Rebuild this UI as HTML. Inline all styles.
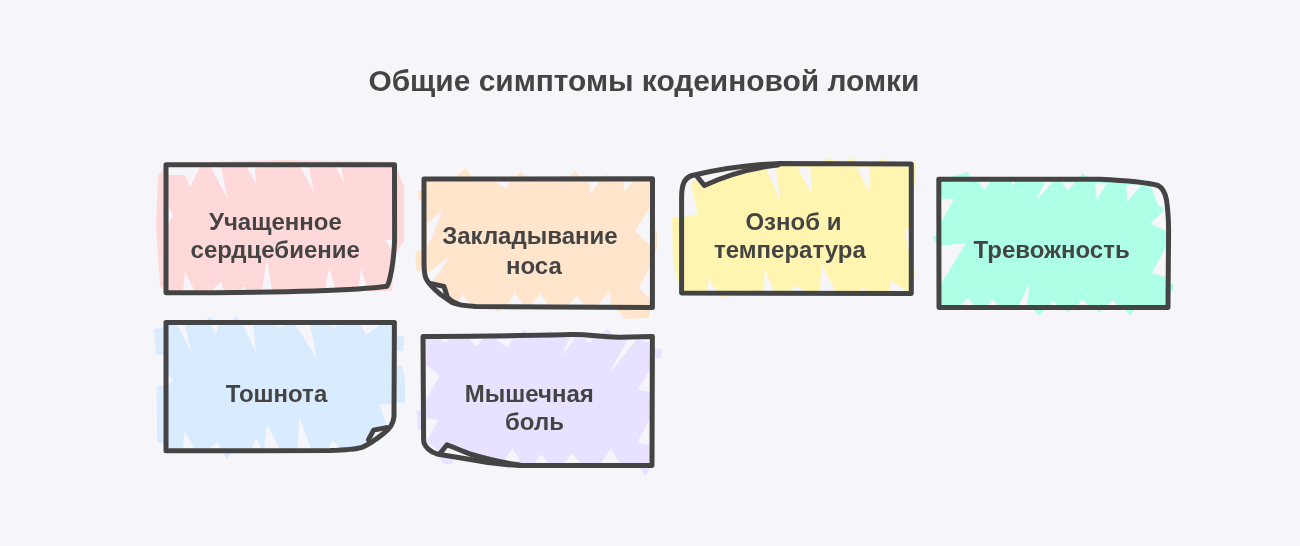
<!DOCTYPE html>
<html><head><meta charset="utf-8">
<style>
html,body{margin:0;padding:0;background:#F6F5FA;width:1300px;height:546px;overflow:hidden}
svg{display:block}
</style></head><body>
<svg width="1300" height="546" viewBox="0 0 1300 546">
<rect width="1300" height="546" fill="#F6F5FA"/>
<polygon fill="#FFD9D9" points="168,164 240,161 285,160 394,162 404,186 404,241 394,255 392,291 168,292 160,286 156,227 158,176"/>
<polygon fill="#F6F5FA" points="168,167 200,167 190,187 185,175 168,175"/>
<polygon fill="#F6F5FA" points="211,167 221,167 227.7,199"/>
<polygon fill="#F6F5FA" points="247,167 255,167 256,184"/>
<polygon fill="#F6F5FA" points="300,167 309,167 314,192"/>
<polygon fill="#F6F5FA" points="336,167 341,167 344,183"/>
<polygon fill="#F6F5FA" points="183,291 195,291 185,272"/>
<polygon fill="#F6F5FA" points="211,291 224,291 221,282"/>
<polygon fill="#F6F5FA" points="239,291 247,291 244,286"/>
<polygon fill="#F6F5FA" points="262,291 272,291 267,258"/>
<polygon fill="#F6F5FA" points="325,291 336,291 329,268"/>
<polygon fill="#F6F5FA" points="358,291 368,291 361,268"/>
<polygon fill="#F6F5FA" points="168,205 173,215 168,225"/>
<polygon fill="#F6F5FA" points="385,240 394,240 394,255"/>
<polygon fill="#FFE5CC" points="426,181 651,180 651,306 460,306 440,296 426,280"/>
<polygon fill="#FFE5CC" points="452,179 466,168.7 474,179"/>
<polygon fill="#FFE5CC" points="514,179 520.7,171.6 528,179"/>
<polygon fill="#FFE5CC" points="568,179 575,171 582,179"/>
<polygon fill="#FFE5CC" points="602,179 606,174 610,179"/>
<polygon fill="#FFE5CC" points="426,190 417.5,191 419,200 426,202"/>
<polygon fill="#FFE5CC" points="426,248 415.5,252 416,270 426,272"/>
<polygon fill="#FFE5CC" points="490,306 498,312 504,306"/>
<polygon fill="#FFE5CC" points="615,306 625,319 649,318 651,306"/>
<polygon fill="#FFE5CC" points="651,222 657,232 657,250 651,252"/>
<polygon fill="#F6F5FA" points="496,182 510,182 506,189"/>
<polygon fill="#F6F5FA" points="589,182 599,182 590,194"/>
<polygon fill="#F6F5FA" points="623,182 632,182 625,192"/>
<polygon fill="#F6F5FA" points="443,209 427,224 427,246 431,240"/>
<polygon fill="#F6F5FA" points="450,256 427,274 430,283 437,276"/>
<polygon fill="#F6F5FA" points="651,206 635,231 651,246"/>
<polygon fill="#F6F5FA" points="651,264 639,288 651,300"/>
<polygon fill="#F6F5FA" points="457.8,305 471,305 462,294.4"/>
<polygon fill="#F6F5FA" points="507,305 523.7,305 514.7,292.8"/>
<polygon fill="#F6F5FA" points="531,305 548,305 541,293"/>
<polygon fill="#F6F5FA" points="568,305 584.5,305 577,296"/>
<polygon fill="#F6F5FA" points="597.7,305 611,305 610,291"/>
<polygon fill="#FFF5B0" points="684,183 720,176 760,168 790,165 910,163 910,292 684,292"/>
<polygon fill="#FFF5B0" points="818,164 830,158 842,164"/>
<polygon fill="#FFF5B0" points="844,164 851,157 858,164"/>
<polygon fill="#FFF5B0" points="875,164 883,158 891,164"/>
<polygon fill="#FFF5B0" points="910,162 916.5,163 915,185 910,185"/>
<polygon fill="#FFF5B0" points="910,269 915,270 915,276 910,276"/>
<polygon fill="#FFF5B0" points="717,292 723,299 728,292"/>
<polygon fill="#FFF5B0" points="684,217 672,217 673,260 678,283 684,283"/>
<polygon fill="#F6F5FA" points="766,167 776,167 780,201"/>
<polygon fill="#F6F5FA" points="797,167 810,167 812,195"/>
<polygon fill="#F6F5FA" points="856.5,167 870,167 869.7,192.5"/>
<polygon fill="#F6F5FA" points="707,291 716,291 708.7,278.5"/>
<polygon fill="#F6F5FA" points="764,291 774,291 764.8,269.5"/>
<polygon fill="#F6F5FA" points="790,291 805,291 797,286"/>
<polygon fill="#F6F5FA" points="820,291 835,291 821.4,263"/>
<polygon fill="#F6F5FA" points="861,291 866,291 863,286"/>
<polygon fill="#F6F5FA" points="889,291 907,291 890.6,281"/>
<polygon fill="#F6F5FA" points="905,230 909,230 909,253"/>
<polygon fill="#F6F5FA" points="684,176 700,172 691,184 698,214 684,217"/>
<polygon fill="#ADFFE6" points="941,181 1100,181 1158,187 1166,225 1166,306 941,306"/>
<polygon fill="#ADFFE6" points="935,181 968,172 972,181"/>
<polygon fill="#ADFFE6" points="1077,181 1083,173 1090,181"/>
<polygon fill="#ADFFE6" points="941,235 933,236 935,243 941,243"/>
<polygon fill="#ADFFE6" points="1030,306 1040,316 1046,306"/>
<polygon fill="#ADFFE6" points="1064,306 1068,313 1072,306"/>
<polygon fill="#ADFFE6" points="1094,306 1099,312.6 1105,306"/>
<polygon fill="#ADFFE6" points="1123,306 1130,316 1137,306"/>
<polygon fill="#ADFFE6" points="1166,283 1173.7,284 1173,291 1166,291"/>
<polygon fill="#F6F5FA" points="978.6,182 990,182 984.4,190"/>
<polygon fill="#F6F5FA" points="1011,182 1016,182 1013,185"/>
<polygon fill="#F6F5FA" points="1045,182 1053,182 1036,200"/>
<polygon fill="#F6F5FA" points="1062,182.6 1075,182.6 1067.6,190.6"/>
<polygon fill="#F6F5FA" points="1095,183 1107,183 1096.9,199.4"/>
<polygon fill="#F6F5FA" points="1126,185 1141,185 1127.6,201.6"/>
<polygon fill="#F6F5FA" points="1150,184 1160,186 1166,205 1166,209 1158,205"/>
<polygon fill="#F6F5FA" points="1166,208 1150,223.6 1166,231"/>
<polygon fill="#F6F5FA" points="941,199 954,199 941,222"/>
<polygon fill="#F6F5FA" points="941,246 966,243 941,284"/>
<polygon fill="#F6F5FA" points="961,305 974,305 967.8,297.7"/>
<polygon fill="#F6F5FA" points="987.6,305 997.5,305 992.6,299.4"/>
<polygon fill="#F6F5FA" points="1019,305 1027,305 1029.7,282.9"/>
<polygon fill="#F6F5FA" points="1050,305 1057,305 1053,301"/>
<polygon fill="#F6F5FA" points="1078,305 1088,305 1082,299.4"/>
<polygon fill="#F6F5FA" points="1107.7,305 1117.6,305 1112.7,300.2"/>
<polygon fill="#F6F5FA" points="1166,247 1152,273 1166,277"/>
<polygon fill="#D9EBFF" points="168,324 393,324 393,417 386,428 370,440 355,448 330,449 168,449"/>
<polygon fill="#D9EBFF" points="168,327 154,329 156,354 168,356"/>
<polygon fill="#D9EBFF" points="168,385 156.7,386 157,443 168,443"/>
<polygon fill="#D9EBFF" points="204,323 210,316 216,323"/>
<polygon fill="#D9EBFF" points="231,323 236,316 242,323"/>
<polygon fill="#D9EBFF" points="393,335 404,336 403,351 393,351"/>
<polygon fill="#D9EBFF" points="393,365 402,366 405,380 405,403 393,403"/>
<polygon fill="#D9EBFF" points="220,449 227,459 234,449"/>
<polygon fill="#F6F5FA" points="177,325 184.5,325 191.9,352.5"/>
<polygon fill="#F6F5FA" points="211,325 218,325 216,335"/>
<polygon fill="#F6F5FA" points="243,325 253,325 256,352.5"/>
<polygon fill="#F6F5FA" points="274,325 285,325 280,328"/>
<polygon fill="#F6F5FA" points="295.5,325 310,325 316.7,358.3"/>
<polygon fill="#F6F5FA" points="330.6,325 338,325 334,328"/>
<polygon fill="#F6F5FA" points="361,325 380,325 365.8,335"/>
<polygon fill="#F6F5FA" points="183,449 194.5,449 184.6,431"/>
<polygon fill="#F6F5FA" points="207.7,449 221,449 217.6,442.7"/>
<polygon fill="#F6F5FA" points="252,449 262,449 256,438"/>
<polygon fill="#F6F5FA" points="264,449 280,449 267,424.5"/>
<polygon fill="#F6F5FA" points="298,449 311,449 299,416.3"/>
<polygon fill="#F6F5FA" points="328,449 341,449 332.7,441"/>
<polygon fill="#F6F5FA" points="379.7,404.7 393,404 393,420 387,428"/>
<polygon fill="#F6F5FA" points="168,374 173,380 168,385"/>
<polygon fill="#E8E1FF" points="425,338 651,338 651,464 530,464 480,458 440,452 425,440"/>
<polygon fill="#E8E1FF" points="517,338 524,329.5 531,338"/>
<polygon fill="#E8E1FF" points="543,338 550,331 557,338"/>
<polygon fill="#E8E1FF" points="598,338 607,328.8 617,338"/>
<polygon fill="#E8E1FF" points="651,348 662,349 661,358 651,358"/>
<polygon fill="#E8E1FF" points="425,410 416.5,411 418,429.6 425,430"/>
<polygon fill="#E8E1FF" points="436,453 444,464 452,464 455,455"/>
<polygon fill="#E8E1FF" points="636,464 645.5,476 653,464"/>
<polygon fill="#F6F5FA" points="440,339 450,339 445,343"/>
<polygon fill="#F6F5FA" points="469,339 482.6,339 476.7,347"/>
<polygon fill="#F6F5FA" points="496,339 513,339 507.5,347.8"/>
<polygon fill="#F6F5FA" points="569,339 575,339 560.6,356.6"/>
<polygon fill="#F6F5FA" points="585,339 593.6,339 589,343"/>
<polygon fill="#F6F5FA" points="628,339 637,339 608.2,375"/>
<polygon fill="#F6F5FA" points="638,339 651,339 651,343"/>
<polygon fill="#F6F5FA" points="426,365 440,375.6 426,400"/>
<polygon fill="#F6F5FA" points="426,418 438,420 426,443"/>
<polygon fill="#F6F5FA" points="651,368 637.4,390 651,392"/>
<polygon fill="#F6F5FA" points="651,416.4 637,442.8 651,445"/>
<polygon fill="#F6F5FA" points="535,463 548,463 541,454"/>
<polygon fill="#F6F5FA" points="564.7,463 581,463 572,453.5"/>
<polygon fill="#F6F5FA" points="601,463 619,463 611,448.6"/>
<polygon fill="#F6F5FA" points="504,461 520,461 512,448"/>
<path fill="#F6F5FA" d="M432,284 L444,286.4 L447.5,297.5 L438,293 Z"/>
<path fill="#F6F5FA" d="M699,177.5 L704.3,185.5 C725,176 750,168 778,165 C750,165.5 722,170 699,177.5 Z"/>
<path fill="#F6F5FA" d="M386.4,427.6 L373.6,430.1 L368.5,439.7 L380,433 Z"/>
<path fill="#F6F5FA" d="M439.6,454 L447,444.7 C455,448 462,451 470,454 C485,458.5 500,462.5 519.6,465 C505,464 490,462.5 470.4,459.5 L439.6,454 Z"/>

<g fill="none" stroke="#444444" stroke-width="5" stroke-linecap="round" stroke-linejoin="round">
<path d="M166,164.8 L394.5,164.8 L394.6,240 C394,255 392.7,268.8 388.8,282.3 L387,286.2 C370,288.5 352,289.6 313.8,291 C280,292 236.9,292.6 166,292.8 Z"/>
<path d="M424,179 L652.5,178.7 L652.4,307.5 L476,306.5 C466,306 458,305 452,302.5 L440.5,294.5 C434,289 428.5,284 426,278.5 C424.5,275 424,271 424,262 Z"/>
<path d="M430,283.5 L444,286.4 L447.5,297.5 Q451,301.5 457,303.5"/>
<path d="M681.6,293 L911.3,293.6 L911.3,164 L780,163.5 C750,164.5 720,169 692,175.5 C684,178 681.6,185 681.6,198 Z"/>
<path d="M697.5,177 L704.3,185.5 C725,176 750,168 778,165"/>
<path d="M938.8,179.2 L1100,179.3 C1125,180.5 1145,182 1158,185.5 C1163,188 1165,192 1166.5,200 C1168,210 1168.5,218 1168.6,230 L1168,307.6 L939,307.6 Z"/>
<path d="M166,322.4 L394.4,322.4 L394,416.7 C393.5,422 391,428 383.8,433.3 C378,438 370,444 362,447.4 C355,449.5 349,450 330,450.6 L166,450.7 Z"/>
<path d="M386.4,427.6 L373.6,430.1 L368.5,439.7"/>
<path d="M423,336.4 C480,336 540,335.5 570,334.6 C590,334 600,337.5 620,337.2 L652.4,336.4 L652,465.4 L519.6,465.4 C505,465 490,463.5 470.4,459.5 L437,454 C431,452 423.6,447 423.6,439.8 Z"/>
<path d="M439.6,454 L447,444.7 C455,448 462,451 470,454 C485,458.5 500,462.5 519.6,465"/>
</g>


<g fill="#444444" font-family="Liberation Sans, sans-serif" font-weight="bold" text-anchor="middle" style="will-change:transform">
<text x="643.9" y="90.8" font-size="29.9">Общие симптомы кодеиновой ломки</text>
<text x="275.4" y="229.6" font-size="24">Учащенное</text>
<text x="275.2" y="258.2" font-size="24">сердцебиение</text>
<text x="529.9" y="244.4" font-size="24">Закладывание</text>
<text x="533.9" y="273.6" font-size="24">носа</text>
<text x="793.4" y="230.1" font-size="24">Озноб и</text>
<text x="789.9" y="257.9" font-size="24">температура</text>
<text x="1051.6" y="257.8" font-size="24">Тревожность</text>
<text x="276.5" y="401.5" font-size="24">Тошнота</text>
<text x="529.3" y="401.5" font-size="24">Мышечная</text>
<text x="534.5" y="430.2" font-size="24">боль</text>
</g>

</svg>
</body></html>
